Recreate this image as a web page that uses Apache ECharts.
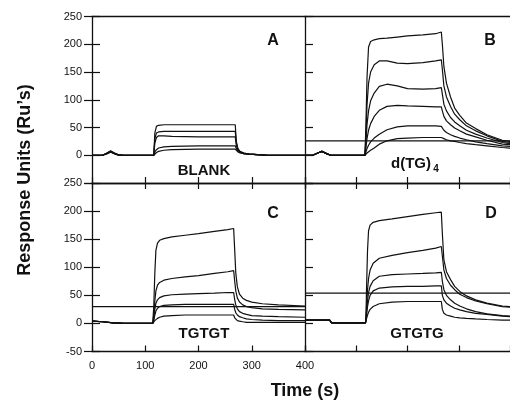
<!DOCTYPE html>
<html>
<head>
<meta charset="utf-8">
<script src="https://cdn.jsdelivr.net/npm/echarts@6/dist/echarts.min.js"></script>
<style>
  html, body { margin: 0; padding: 0; background: #fff; }
  #chart { width: 510px; height: 400px; }
</style>
</head>
<body>
<div id="chart"></div>
<script>
// sensorgram data (time in s, response in RU)

// A: BLANK
var timeA = [0, 20, 28, 35, 42, 50, 60, 100, 116, 118, 121, 125, 135, 150, 200, 250, 269, 271, 274, 278, 285, 295, 310, 330, 360, 400];
var blank1 = [0, 0, 3, 6, 3, 0, 0, 0, 0, 40, 52, 54, 55, 55, 55, 55, 55, 25, 12, 7, 4, 2, 1, 0, 0, 0];
var blank2 = [0, 0, 4, 7, 4, 1, 0, 0, 0, 30, 40, 42, 43, 43, 43, 43, 43, 22, 11, 6, 4, 2, 1, 0, 0, 0];
var blank3 = [0, 0, 3, 6, 3, 0, 0, 0, 0, 22, 32, 35, 35, 34, 33, 33, 33, 18, 10, 6, 3, 2, 1, 0, 0, 0];
var blank4 = [0, 0, 4, 8, 4, 1, 0, 0, 0, 6, 10, 13, 15, 16, 17, 17, 17, 12, 8, 5, 3, 2, 1, 0, 0, 0];
var blank5 = [0, 0, 3, 6, 3, 0, 0, 0, 0, 3, 5, 7, 9, 10, 11, 11, 11, 8, 6, 4, 3, 2, 1, 0, 0, 0];

// B: d(TG)4
var timeB = [0, 15, 25, 33, 42, 50, 60, 100, 117, 119, 121, 124, 128, 135, 145, 160, 180, 200, 230, 255, 266, 268, 271, 276, 284, 292, 302, 315, 333, 355, 385, 400];
var tg1 = [0, 0, 4, 7, 3, 0, 0, 0, 0, 60, 140, 195, 205, 208, 210, 211, 213, 215, 217, 219, 222, 200, 160, 130, 105, 85, 72, 58, 48, 37, 27, 25];
var tg2 = [0, 0, 4, 7, 3, 0, 0, 0, 0, 40, 90, 130, 150, 163, 170, 170, 166, 165, 167, 170, 172, 155, 125, 105, 88, 74, 64, 53, 44, 35, 25, 23];
var tg3 = [0, 0, 4, 7, 3, 0, 0, 0, 0, 25, 55, 80, 98, 112, 124, 128, 125, 120, 119, 120, 122, 110, 92, 80, 68, 60, 53, 45, 38, 31, 23, 21];
var tg4 = [0, 0, 4, 7, 3, 0, 0, 0, 0, 15, 30, 45, 57, 70, 81, 88, 90, 89, 88, 87, 87, 80, 70, 62, 55, 49, 44, 38, 33, 27, 20, 19];
var tg5 = [0, 0, 4, 7, 3, 0, 0, 0, 0, 6, 12, 18, 24, 31, 38, 46, 51, 53, 53, 53, 52, 49, 45, 41, 37, 34, 31, 28, 24, 21, 17, 16];
var tg6 = [0, 0, 4, 7, 3, 0, 0, 0, 0, 2, 4, 6, 9, 13, 20, 26, 30, 31, 32, 32, 32, 31, 30, 28, 26, 25, 23, 21, 19, 17, 14, 13];

// C: TGTGT
var timeC = [0, 20, 40, 60, 100, 114, 116, 118, 120, 123, 127, 135, 150, 175, 200, 230, 255, 266, 268, 270, 273, 277, 283, 290, 300, 320, 350, 400];
var tgtgt1 = [4, 3, 1, 0, 0, 0, 30, 90, 130, 143, 148, 151, 154, 157, 160, 164, 167, 169, 130, 90, 65, 52, 45, 41, 38, 35, 33, 31];
var tgtgt2 = [4, 3, 1, 0, 0, 0, 15, 40, 58, 68, 73, 77, 80, 83, 85, 89, 92, 94, 75, 58, 45, 38, 33, 30, 28, 26, 25, 24];
var tgtgt3 = [4, 3, 1, 0, 0, 0, 8, 25, 36, 42, 46, 49, 51, 52, 53, 54, 55, 55, 42, 33, 26, 21, 18, 16, 14, 13, 12, 11];
var tgtgt4 = [4, 3, 1, 0, 0, 0, 5, 15, 22, 27, 30, 32, 33, 34, 34, 34, 34, 34, 25, 19, 15, 12, 10, 8, 7, 6, 5, 5];
var tgtgt5 = [4, 3, 1, 0, 0, 0, 2, 5, 7, 9, 11, 13, 14, 15, 15, 15, 15, 15, 10, 7, 5, 4, 3, 2, 2, 2, 2, 2];

// D: GTGTG
var timeD = [0, 48, 52, 100, 118, 119, 120, 122, 124, 127, 133, 145, 170, 200, 230, 255, 266, 268, 271, 276, 284, 292, 302, 315, 333, 355, 385, 400];
var gtgtg1 = [6, 6, 1, 1, 1, 10, 60, 130, 165, 175, 180, 183, 186, 190, 194, 197, 198, 160, 113, 92, 78, 66, 57, 49, 42, 36, 31, 30];
var gtgtg2 = [6, 6, 1, 1, 1, 5, 30, 60, 80, 95, 107, 116, 121, 126, 130, 134, 137, 120, 95, 80, 68, 60, 52, 46, 40, 35, 30, 29];
var gtgtg3 = [6, 6, 1, 1, 1, 3, 20, 40, 55, 66, 76, 84, 87, 88, 89, 90, 91, 75, 60, 50, 42, 36, 31, 26, 21, 17, 14, 13];
var gtgtg4 = [6, 6, 1, 1, 1, 3, 15, 30, 40, 50, 58, 63, 65, 66, 66, 67, 67, 50, 42, 36, 31, 27, 24, 21, 18, 16, 13, 12];
var gtgtg5 = [6, 6, 1, 1, 1, 2, 8, 15, 20, 25, 30, 35, 38, 39, 39, 39, 39, 25, 18, 15, 13, 11, 10, 9, 8, 7, 6, 6];

// flat reference levels drawn across panels B, C, D
var refB = 26;
var refC = 30;
var refD = 54;

var timeRange = [0, 400];
var timeTicks = 100;
var respRange = [-50, 250];
var respTicks = 50;

var ink = "#111";
var tickFont = { color: ink, fontSize: 11, fontFamily: "Liberation Sans, Arial, sans-serif" };

function curve(t, v, xi, yi) {
  return {
    type: "line",
    xAxisIndex: xi,
    yAxisIndex: yi,
    data: t.map(function(x, i) { return [x, v[i]]; }),
    symbol: "none",
    silent: true,
    lineStyle: { color: ink, width: 1.2 }
  };
}

function level(v, xi, yi) {
  return curve(timeRange, [v, v], xi, yi);
}

// x axis helper, ticks pointing into the panel
function xAx(grid, pos, opts) {
  return Object.assign({
    type: "value",
    gridIndex: grid,
    position: pos,
    min: timeRange[0],
    max: timeRange[1],
    interval: timeTicks,
    axisLine: { show: true, onZero: false, lineStyle: { color: ink, width: 1.3 } },
    axisTick: { show: true, inside: true, length: 6, lineStyle: { color: ink, width: 1.2 } },
    axisLabel: { show: false },
    splitLine: { show: false }
  }, opts || {});
}

function yAx(grid, pos, opts) {
  return Object.assign({
    type: "value",
    gridIndex: grid,
    position: pos,
    min: respRange[0],
    max: respRange[1],
    interval: respTicks,
    axisLine: { show: true, onZero: false, lineStyle: { color: ink, width: 1.3 } },
    axisTick: { show: true, inside: true, length: 8, lineStyle: { color: ink, width: 1.2 } },
    axisLabel: { show: false },
    splitLine: { show: false }
  }, opts || {});
}

var chart = echarts.init(document.getElementById("chart"));

var option = {
  animation: false,
  backgroundColor: "#fff",
  grid: [
    { left: 92, top: 16.5, width: 213, height: 166.5 },
    { left: 305, top: 16.5, width: 213, height: 166.5 },
    { left: 92, top: 183, width: 213, height: 168.5 },
    { left: 305, top: 183, width: 213, height: 168.5 }
  ],
  xAxis: [
    xAx(0, "bottom"),
    xAx(0, "top", { axisTick: { show: false } }),
    xAx(1, "bottom"),
    xAx(1, "top", { axisTick: { show: false } }),
    xAx(2, "bottom", {
      axisLabel: Object.assign({ show: true, margin: 9, showMaxLabel: true, showMinLabel: true }, tickFont)
    }),
    xAx(2, "top"),
    xAx(3, "bottom"),
    xAx(3, "top")
  ],
  yAxis: [
    yAx(0, "left", {
      axisLabel: Object.assign({ show: true, margin: 10, showMinLabel: false, showMaxLabel: true }, tickFont)
    }),
    yAx(0, "right", { axisLine: { show: false } }),
    yAx(1, "left"),
    yAx(2, "left", {
      axisLabel: Object.assign({ show: true, margin: 10, showMinLabel: true, showMaxLabel: true }, tickFont)
    }),
    yAx(2, "right", { axisLine: { show: false } }),
    yAx(3, "left")
  ],
  series: [
    curve(timeA, blank1, 0, 0),
    curve(timeA, blank2, 0, 0),
    curve(timeA, blank3, 0, 0),
    curve(timeA, blank4, 0, 0),
    curve(timeA, blank5, 0, 0),

    curve(timeB, tg1, 2, 2),
    curve(timeB, tg2, 2, 2),
    curve(timeB, tg3, 2, 2),
    curve(timeB, tg4, 2, 2),
    curve(timeB, tg5, 2, 2),
    curve(timeB, tg6, 2, 2),
    level(refB, 2, 2),

    curve(timeC, tgtgt1, 4, 3),
    curve(timeC, tgtgt2, 4, 3),
    curve(timeC, tgtgt3, 4, 3),
    curve(timeC, tgtgt4, 4, 3),
    curve(timeC, tgtgt5, 4, 3),
    level(refC, 4, 3),

    curve(timeD, gtgtg1, 6, 5),
    curve(timeD, gtgtg2, 6, 5),
    curve(timeD, gtgtg3, 6, 5),
    curve(timeD, gtgtg4, 6, 5),
    curve(timeD, gtgtg5, 6, 5),
    level(refD, 6, 5)
  ],
  graphic: [
    // panel letters
    txt("A", 273, 41, 16), txt("B", 490, 41, 16),
    txt("C", 273, 214, 16), txt("D", 491, 214, 16),
    // panel names
    txt("BLANK", 204, 171, 15),
    txt("d(TG)", 411, 164, 15),
    txt("4", 436, 169, 10),
    txt("TGTGT", 204, 334, 15),
    txt("GTGTG", 417, 334, 15),
    // axis titles
    txt("Time (s)", 305, 391, 18),
    {
      type: "text",
      x: 25,
      y: 180,
      rotation: Math.PI / 2,
      style: {
        text: "Response Units (Ru’s)",
        fill: ink,
        font: "bold 18px Liberation Sans, Arial, sans-serif",
        textAlign: "center",
        textVerticalAlign: "middle",
        align: "center",
        verticalAlign: "middle"
      }
    }
  ]
};

function txt(s, x, y, size) {
  return {
    type: "text",
    x: x,
    y: y,
    style: {
      text: s,
      fill: ink,
      font: "bold " + size + "px Liberation Sans, Arial, sans-serif",
      textAlign: "center",
      textVerticalAlign: "middle",
      align: "center",
      verticalAlign: "middle"
    }
  };
}

chart.setOption(option);
</script>
</body>
</html>
